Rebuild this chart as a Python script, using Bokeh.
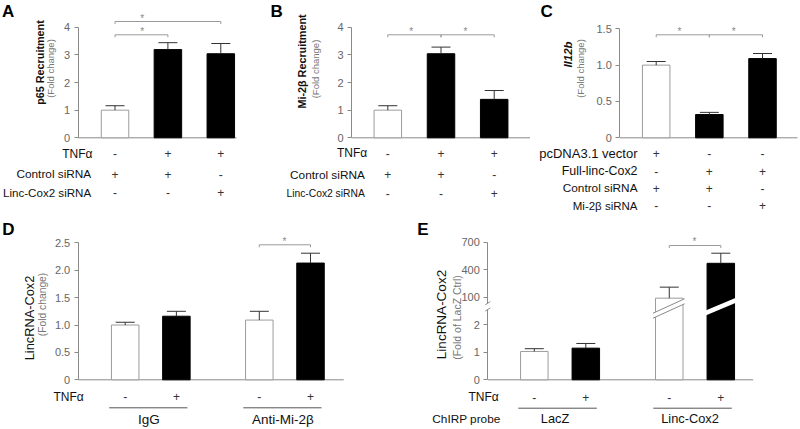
import numpy as np
from bokeh.plotting import figure
from bokeh.layouts import row, column
from bokeh.models import LinearAxis, FixedTicker
from bokeh.core.properties import value
from bokeh.embed import file_html
from bokeh.resources import INLINE

# ---------------- data ----------------
A_TNF = ["-", "+", "+"]
A_CONTROL_SIRNA = ["+", "+", "-"]
A_LINC_SIRNA = ["-", "-", "+"]
A_MEAN = [1.00, 3.19, 3.04]
A_SEM = [0.16, 0.25, 0.37]
A_SIG = [(0, 1), (0, 2)]
A_TICKS = [0, 1, 2, 3, 4]
A_TICK_LABELS = ["0", "1", "2", "3", "4"]

B_TNF = ["-", "+", "+"]
B_CONTROL_SIRNA = ["+", "+", "-"]
B_LINC_SIRNA = ["-", "-", "+"]
B_MEAN = [1.00, 3.04, 1.39]
B_SEM = [0.16, 0.24, 0.32]
B_SIG = [(0, 1), (1, 2)]
B_TICKS = [0, 1, 2, 3, 4]
B_TICK_LABELS = ["0", "1", "2", "3", "4"]

C_PCDNA = ["+", "-", "-"]
C_FULL_LINC = ["-", "+", "+"]
C_CONTROL_SIRNA = ["+", "+", "-"]
C_MI2B_SIRNA = ["-", "-", "+"]
C_MEAN = [1.00, 0.32, 1.09]
C_SEM = [0.05, 0.03, 0.07]
C_SIG = [(0, 1), (1, 2)]
C_TICKS = [0, 0.5, 1.0, 1.5]
C_TICK_LABELS = ["0", "0.5", "1.0", "1.5"]

D_GROUPS = ["IgG", "Anti-Mi-2β"]
D_TNF = ["-", "+", "-", "+"]
D_MEAN = [1.00, 1.16, 1.09, 2.13]
D_SEM = [0.05, 0.09, 0.16, 0.18]
D_SIG = [(2, 3)]
D_TICKS = [0, 0.5, 1.0, 1.5, 2.0, 2.5]
D_TICK_LABELS = ["0", "0.5", "1.0", "1.5", "2.0", "2.5"]

E_GROUPS = ["LacZ", "Linc-Cox2"]
E_TNF = ["-", "+", "-", "+"]
E_MEAN = [1.03, 1.15, 90, 470]
E_SEM = [0.10, 0.17, 120, 110]
E_SIG = [(2, 3)]
E_TICKS_LOW = [0, 1, 2]
E_TICKS_HIGH = [100, 400, 700]

# ---------------- style ----------------
FONT = value("Liberation Sans")
AXIS_COLOR = "#8a8a8a"
TICK_LABEL_COLOR = "#666666"
BRACKET_COLOR = "#9a9a9a"
ERR_COLOR = "#333333"
WHITE_EDGE = "#9c9c9c"
TEXT_DARK = "#111111"
SIGN_COLOR = "#333333"
GROUP_STEP = 2.62   # distance between first bars of two groups (in bar slots)


def make_panel(box, xmap, ymap):
    L, T, W, H = box
    (xp1, xv1), (xp2, xv2) = xmap
    (yp1, yv1), (yp2, yv2) = ymap
    kx = (xv2 - xv1) / (xp2 - xp1)
    ky = (yv2 - yv1) / (yp2 - yp1)

    def X(px):
        return xv1 + (px - xp1) * kx

    def Y(py):
        return yv1 + (py - yp1) * ky

    def PX(x):
        return xp1 + (x - xv1) / kx

    p = figure(width=W, height=H,
               x_range=(X(L), X(L + W)), y_range=(Y(T + H), Y(T)),
               x_axis_type=None, y_axis_type=None,
               toolbar_location=None, output_backend="svg",
               min_border=0, outline_line_color=None)
    p.background_fill_color = "white"
    p.border_fill_color = "white"
    return p, X, Y, PX


def y_axis(p, X, axis_px, ticks, labels, bounds):
    ax = LinearAxis(fixed_location=X(axis_px), bounds=bounds,
                    ticker=FixedTicker(ticks=list(ticks)),
                    major_label_overrides={float(t): l for t, l in zip(ticks, labels)},
                    axis_line_color=AXIS_COLOR, axis_line_width=1,
                    major_tick_line_color=AXIS_COLOR, major_tick_out=4, major_tick_in=0,
                    minor_tick_line_color=None,
                    major_label_text_font="Liberation Sans",
                    major_label_text_font_size="11px",
                    major_label_text_color=TICK_LABEL_COLOR,
                    major_label_standoff=4)
    p.add_layout(ax, "left")


def baseline(p, X, start_px, end_px):
    p.segment(x0=[X(start_px)], y0=[0], x1=[X(end_px)], y1=[0],
              line_color=AXIS_COLOR, line_width=1)


def bars(p, X, PX, xs, tops, err_tops, fills, width_px=27.5, cap_px=19):
    c0 = PX(xs[0])
    w = X(c0 + width_px) - X(c0)
    cap = X(c0 + cap_px) - X(c0)
    edges = [WHITE_EDGE if f == "white" else "black" for f in fills]
    p.vbar(x=xs, top=tops, bottom=0, width=w, fill_color=fills,
           line_color=edges, line_width=1)
    p.segment(x0=xs, y0=tops, x1=xs, y1=err_tops, line_color=ERR_COLOR, line_width=1)
    p.segment(x0=[x - cap / 2 for x in xs], y0=err_tops,
              x1=[x + cap / 2 for x in xs], y1=err_tops, line_color=ERR_COLOR, line_width=1)


def bracket(p, X, Y, x0, x1, y_px, star_px, drop_px=2.5):
    y = Y(y_px)
    yd = Y(y_px + drop_px)
    p.multi_line(xs=[[x0, x0, x1, x1]], ys=[[yd, y, y, yd]],
                 line_color=BRACKET_COLOR, line_width=1)
    p.text(x=[X(star_px[0])], y=[Y(star_px[1] + 2.0)], text=["*"],
           text_font=FONT, text_font_size="10px", text_color="#888888",
           text_align="center", text_baseline="middle")


def txt(p, X, Y, cx, cy, s, fs=11.5, align="right", color=TEXT_DARK, style="normal",
        rot=False):
    """Place text with its vertical middle at (cx, cy) (reference px)."""
    if rot:
        p.text(x=[X(cx)], y=[Y(cy)], text=[s], text_font=FONT,
               text_font_size=f"{fs}px", text_align="center",
               text_baseline="middle", text_color=color,
               text_font_style=style, angle=np.pi / 2)
    else:
        p.text(x=[X(cx)], y=[Y(cy)], text=[s], text_font=FONT,
               text_font_size=f"{fs}px", text_align=align,
               text_baseline="middle", text_color=color,
               text_font_style=style)


def signs(p, Y, xs, cy, marks, fs=12):
    p.text(x=xs, y=[Y(cy)] * len(xs), text=marks, text_font=FONT,
           text_font_size=f"{fs}px", text_align="center", text_baseline="middle",
           text_color=SIGN_COLOR)


def letter(p, X, Y, s, px, py):
    p.text(x=[X(px)], y=[Y(py)], text=[s], text_font=FONT, text_font_size="17px",
           text_align="left", text_baseline="middle", text_color="black",
           text_font_style="bold")


def fill_of(flags, on="+"):
    return ["black" if f == on else "white" for f in flags]


def group_x(n):
    return [1 + (i // 2) * GROUP_STEP + (i % 2) for i in range(n)]


# ---------------- panel A ----------------
pA, XA, YA, PXA = make_panel((0, 0, 265, 215), ((114.5, 1), (220.3, 3)),
                             ((137.3, 0), (26.7, 4)))
xsA = [1, 2, 3]
y_axis(pA, XA, 77.7, A_TICKS, A_TICK_LABELS, (0, 4))
baseline(pA, XA, 77.7, 236)
bars(pA, XA, PXA, xsA, A_MEAN, [m + s for m, s in zip(A_MEAN, A_SEM)], fill_of(A_TNF))
bracket(pA, XA, YA, xsA[A_SIG[0][0]], xsA[A_SIG[0][1]], 34.3, (141.7, 29.3))
bracket(pA, XA, YA, xsA[A_SIG[1][0]], xsA[A_SIG[1][1]], 21.0, (141.7, 16.0))
for lab, flags, ypx, rx, fs in [("TNFα", A_TNF, 153.0, 92.0, 12),
                                ("Control siRNA", A_CONTROL_SIRNA, 173.8, 90.7, 11.8),
                                ("Linc-Cox2 siRNA", A_LINC_SIRNA, 192.3, 90.7, 11.6)]:
    txt(pA, XA, YA, rx, ypx, lab, fs=fs)
    signs(pA, YA, xsA, ypx, flags)
txt(pA, XA, YA, 39.5, 62.0, "p65 Recruitment", fs=10.8, style="bold", rot=True)
txt(pA, XA, YA, 50.0, 68.0, "(Fold change)", fs=9.5, color="#777777", rot=True)
letter(pA, XA, YA, "A", 1.5, 11.0)

# ---------------- panel B ----------------
pB, XB, YB, PXB = make_panel((265, 0, 265, 215), ((387.3, 1), (493.7, 3)),
                             ((137.3, 0), (26.7, 4)))
xsB = [1, 2, 3]
y_axis(pB, XB, 351.0, B_TICKS, B_TICK_LABELS, (0, 4))
baseline(pB, XB, 351.0, 530)
bars(pB, XB, PXB, xsB, B_MEAN, [m + s for m, s in zip(B_MEAN, B_SEM)], fill_of(B_TNF))
bracket(pB, XB, YB, xsB[B_SIG[0][0]], xsB[B_SIG[0][1]], 34.3, (410.7, 29.3))
bracket(pB, XB, YB, xsB[B_SIG[1][0]], xsB[B_SIG[1][1]], 34.3, (465.0, 29.3))
for lab, flags, ypx, rx, fs in [("TNFα", B_TNF, 152.7, 366.7, 12),
                                ("Control siRNA", B_CONTROL_SIRNA, 174.3, 364.3, 11.8),
                                ("Linc-Cox2 siRNA", B_LINC_SIRNA, 192.7, 364.3, 10.3)]:
    txt(pB, XB, YB, rx, ypx, lab, fs=fs)
    signs(pB, YB, xsB, ypx, flags)
txt(pB, XB, YB, 301.5, 61.0, "Mi-2β Recruitment", fs=10.8, style="bold", rot=True)
txt(pB, XB, YB, 315.0, 68.5, "(Fold change)", fs=9.5, color="#777777", rot=True)
letter(pB, XB, YB, "B", 270.0, 10.5)

# ---------------- panel C ----------------
pC, XC, YC, PXC = make_panel((530, 0, 270, 215), ((655.7, 1), (762.0, 3)),
                             ((137.3, 0), (28.3, 1.5)))
xsC = [1, 2, 3]
y_axis(pC, XC, 619.3, C_TICKS, C_TICK_LABELS, (0, 1.5))
baseline(pC, XC, 619.3, 797)
bars(pC, XC, PXC, xsC, C_MEAN, [m + s for m, s in zip(C_MEAN, C_SEM)],
     fill_of(C_PCDNA, on="-"))
bracket(pC, XC, YC, xsC[C_SIG[0][0]], xsC[C_SIG[0][1]], 34.3, (679.0, 29.3))
bracket(pC, XC, YC, xsC[C_SIG[1][0]], xsC[C_SIG[1][1]], 34.3, (733.3, 29.3))
for lab, flags, ypx, fs in [("pcDNA3.1 vector", C_PCDNA, 152.7, 13.0),
                            ("Full-linc-Cox2", C_FULL_LINC, 170.7, 12.4),
                            ("Control siRNA", C_CONTROL_SIRNA, 187.7, 11.8),
                            ("Mi-2β siRNA", C_MI2B_SIRNA, 205.3, 11.5)]:
    txt(pC, XC, YC, 637.0, ypx, lab, fs=fs)
    signs(pC, YC, xsC, ypx, flags)
txt(pC, XC, YC, 567.0, 54.0, "Il12b", fs=11.5, style="bold italic", rot=True)
txt(pC, XC, YC, 580.0, 68.0, "(Fold change)", fs=9.5, color="#777777", rot=True)
letter(pC, XC, YC, "C", 540.0, 10.5)

# ---------------- panel D ----------------
pD, XD, YD, PXD = make_panel((0, 215, 400, 214), ((124.7, 1), (310.0, 4.62)),
                             ((379.3, 0), (242.3, 2.5)))
xsD = group_x(len(D_MEAN))
y_axis(pD, XD, 77.7, D_TICKS, D_TICK_LABELS, (0, 2.5))
baseline(pD, XD, 77.7, 343.3)
bars(pD, XD, PXD, xsD, D_MEAN, [m + s for m, s in zip(D_MEAN, D_SEM)], fill_of(D_TNF))
bracket(pD, XD, YD, xsD[D_SIG[0][0]], xsD[D_SIG[0][1]], 244.3, (284.0, 239.3))
txt(pD, XD, YD, 83.3, 396.0, "TNFα", fs=12)
signs(pD, YD, xsD, 396.0, D_TNF)
for g, name in enumerate(D_GROUPS):
    a, b = PXD(xsD[2 * g]), PXD(xsD[2 * g + 1])
    pD.segment(x0=[XD(a - 16)], y0=[YD(407.3)], x1=[XD(b + 11)], y1=[YD(407.3)],
               line_color="#555555", line_width=1)
    txt(pD, XD, YD, (a + b) / 2 - 2, 418.5, name, fs=13.5, align="center")
txt(pD, XD, YD, 28.5, 317.5, "LincRNA-Cox2", fs=12.8, rot=True)
txt(pD, XD, YD, 41.5, 304.0, "(Fold change)", fs=10.3, color="#777777", rot=True)
letter(pD, XD, YD, "D", 1.7, 228.5)

# ---------------- panel E ----------------
def t_e(v):
    return v if v <= 2.5 else 3 + (v - 100) / 300


pE, XE, YE, PXE = make_panel((400, 215, 400, 214), ((533.8, 1), (720.3, 4.62)),
                             ((379.3, 0), (241.7, 5.0)))
xsE = group_x(len(E_MEAN))
y_axis(pE, XE, 487.3, E_TICKS_LOW, [str(v) for v in E_TICKS_LOW], (0, YE(309.0)))
y_axis(pE, XE, 487.3, [t_e(v) for v in E_TICKS_HIGH], [str(v) for v in E_TICKS_HIGH],
       (YE(302.7), t_e(E_TICKS_HIGH[-1])))
baseline(pE, XE, 487.3, 752.7)
e_tops = [t_e(m) for m in E_MEAN]
e_err = [t_e(m + s) for m, s in zip(E_MEAN, E_SEM)]
bars(pE, XE, PXE, xsE, e_tops, e_err, fill_of(E_TNF))
# axis break marks
for yb in (309.0, 302.7):
    pE.segment(x0=[XE(484.8)], y0=[YE(yb + 1.6)], x1=[XE(489.8)], y1=[YE(yb - 1.6)],
               line_color=AXIS_COLOR, line_width=1)
# break on the white broken bar
cx = PXE(xsE[2])
l0, r0 = cx - 16.3, cx + 15.3
pE.patches(xs=[[XE(l0), XE(r0), XE(r0), XE(l0)]],
           ys=[[YE(312.7), YE(298.3), YE(303.3), YE(317.7)]],
           fill_color="white", line_color=None)
pE.segment(x0=[XE(l0), XE(l0)], y0=[YE(312.7), YE(317.7)],
           x1=[XE(r0), XE(r0)], y1=[YE(298.3), YE(303.3)],
           line_color="#8a8a8a", line_width=1)
# break stripe on the black broken bar
cx = PXE(xsE[3])
l1, r1 = cx - 17.0, cx + 16.4
pE.patches(xs=[[XE(l1), XE(r1), XE(r1), XE(l1)]],
           ys=[[YE(310.8), YE(296.8), YE(301.8), YE(315.8)]],
           fill_color="white", line_color=None)
bracket(pE, XE, YE, xsE[E_SIG[0][0]], xsE[E_SIG[0][1]], 245.0, (694.0, 239.3))
txt(pE, XE, YE, 498.3, 396.7, "TNFα", fs=12)
signs(pE, YE, xsE, 396.7, E_TNF)
txt(pE, XE, YE, 500.0, 418.0, "ChIRP probe", fs=11.8)
for g, name in enumerate(E_GROUPS):
    a, b = PXE(xsE[2 * g]), PXE(xsE[2 * g + 1])
    pE.segment(x0=[XE(a - 16)], y0=[YE(407.7)], x1=[XE(b + 11)], y1=[YE(407.7)],
               line_color="#555555", line_width=1)
    txt(pE, XE, YE, (a + b) / 2 - 5, 418.0, name, fs=12.8, align="center")
txt(pE, XE, YE, 441.0, 314.0, "LincRNA-Cox2", fs=13.5, rot=True)
txt(pE, XE, YE, 456.5, 317.0, "(Fold of LacZ Ctrl)", fs=10.5, color="#777777", rot=True)
letter(pE, XE, YE, "E", 416.7, 228.5)

layout = column(row(pA, pB, pC), row(pD, pE))
open("out.html", "w").write(file_html(layout, INLINE))
